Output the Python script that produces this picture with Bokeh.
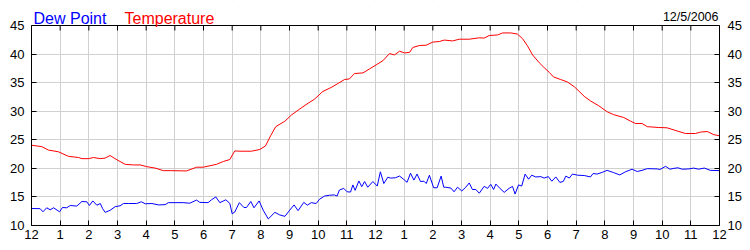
from bokeh.plotting import figure
from bokeh.models import Range1d, LinearAxis, FixedTicker, Label, BoxAnnotation, Span
from bokeh.embed import file_html
from bokeh.resources import INLINE

hour_ticks = list(range(25))
hour_labels = ["12", "1", "2", "3", "4", "5", "6", "7", "8", "9", "10", "11",
               "12", "1", "2", "3", "4", "5", "6", "7", "8", "9", "10", "11", "12"]
y_ticks = [10, 15, 20, 25, 30, 35, 40, 45]

temp_hours = [0, 0.36, 0.59, 0.94, 1.29, 1.64, 1.76, 1.99, 2.16, 2.4, 2.57, 2.74, 2.98,
              3.27, 3.56, 3.79, 4.02, 4.31, 4.6, 4.84, 5.41, 5.76, 5.99, 6.45, 6.69, 6.92,
              7.09, 7.27, 7.67, 7.96, 8.16, 8.34, 8.52, 8.84, 9.07, 9.36, 9.65, 9.87,
              10.16, 10.45, 10.69, 10.92, 11.09, 11.27, 11.56, 11.79, 12.02, 12.26,
              12.49, 12.66, 12.84, 13.01, 13.19, 13.3, 13.53, 13.77, 14.0, 14.23, 14.4,
              14.69, 14.92, 15.27, 15.62, 15.79, 15.97, 16.26, 16.43, 16.72, 16.95,
              17.13, 17.3, 17.48, 17.71, 17.88, 18.06, 18.21, 18.46, 18.7, 18.93, 19.1,
              19.28, 19.5, 19.79, 20.08, 20.31, 20.66, 20.9, 21.07, 21.3, 21.48, 21.88,
              22.17, 22.52, 22.81, 23.16, 23.34, 23.57, 23.8, 24.0]
temperature = [24.05, 23.8, 23.2, 22.9, 22.1, 21.9, 21.7, 21.7, 21.9, 21.7, 21.8, 22.25, 21.5,
               20.7, 20.6, 20.6, 20.3, 20.05, 19.6, 19.6, 19.55, 20.2, 20.2, 20.7, 21.2, 21.55,
               23.05, 23.0, 23.0, 23.3, 23.9, 25.7, 27.3, 28.25, 29.35, 30.4, 31.4, 32.1,
               33.45, 34.15, 34.85, 35.55, 35.65, 36.6, 36.7, 37.4, 38.1, 38.85,
               40.1, 39.85, 40.5, 40.2, 40.3, 41.15, 41.5, 41.55, 42.1, 42.2, 42.45,
               42.3, 42.6, 42.6, 42.85, 42.8, 43.25, 43.35, 43.7, 43.7, 43.5,
               42.7, 41.45, 39.85, 38.5, 37.65, 36.8, 36.0, 35.55, 35.1, 34.3, 33.5,
               32.6, 31.8, 30.95, 29.9, 29.4, 28.9, 28.25, 27.85, 27.85, 27.3, 27.15,
               27.1, 26.55, 26.1, 26.1, 26.35, 26.45, 25.9, 25.7]

dew_hours = [0, 0.3, 0.4, 0.53, 0.65, 0.77, 0.98, 1.08, 1.23, 1.35, 1.58, 1.76, 1.93, 2.02,
             2.14, 2.28, 2.4, 2.48, 2.57, 2.74, 2.92, 3.09, 3.21, 3.38, 3.67, 3.83, 3.97,
             4.2, 4.43, 4.66, 4.78, 5.29, 5.52, 5.76, 5.87, 6.16, 6.28, 6.43, 6.57, 6.78,
             6.92, 7.0, 7.09, 7.25, 7.41, 7.5, 7.65, 7.76, 7.94, 8.08, 8.26, 8.49, 8.66,
             8.84, 9.01, 9.16, 9.3, 9.5, 9.62, 9.76, 9.93, 10.05, 10.22, 10.4, 10.57,
             10.66, 10.74, 10.89, 11.01, 11.13, 11.21, 11.29, 11.42, 11.52, 11.62, 11.73,
             11.91, 12.06, 12.17, 12.29, 12.43, 12.52, 12.69, 12.84, 12.99, 13.1, 13.22,
             13.34, 13.45, 13.57, 13.69, 13.77, 13.88, 14.03, 14.15, 14.29, 14.38, 14.45,
             14.63, 14.74, 14.86, 15.01, 15.15, 15.27, 15.38, 15.5, 15.62, 15.79, 15.91,
             16.02, 16.12, 16.2, 16.32, 16.49, 16.66, 16.78, 16.87, 16.99, 17.1, 17.22,
             17.34, 17.45, 17.59, 17.77, 17.88, 18.03, 18.15, 18.29, 18.43, 18.55, 18.64,
             18.76, 18.87, 19.05, 19.28, 19.5, 19.59, 19.73, 19.91, 20.08, 20.31, 20.52,
             20.72, 20.95, 21.13, 21.3, 21.48, 21.83, 21.92, 22.12, 22.27, 22.41, 22.55,
             22.7, 22.93, 23.1, 23.27, 23.47, 23.68, 24.0]
dew_point = [12.97, 12.95, 12.4, 13.1, 12.75, 13.1, 12.4, 13.15, 13.1, 13.5, 13.4, 14.2, 14.15, 13.5,
             14.3, 13.55, 13.85, 12.97, 12.3, 12.65, 13.3, 13.45, 13.85, 13.85, 13.85, 14.15, 13.8,
             13.85, 13.6, 13.65, 14.0, 14.0, 13.9, 14.45, 14.05, 14.0, 14.5, 15.0, 14.0, 14.5,
             13.85, 12.05, 12.35, 14.0, 13.15, 13.15, 14.2, 13.1, 14.3, 12.7, 11.15, 12.3, 11.85,
             11.6, 12.7, 13.6, 12.6, 14.05, 13.55, 14.0, 13.85, 14.6, 15.15, 15.3, 15.35,
             15.15, 16.2, 16.5, 15.9, 15.85, 17.1, 16.15, 17.8, 16.8, 17.7, 16.7,
             17.7, 16.9, 19.4, 17.35, 18.45, 18.3, 18.35, 18.65, 18.05, 17.55, 19.15,
             17.95, 19.0, 17.7, 17.75, 17.35, 18.8, 16.6, 16.6, 18.65, 16.7, 16.7,
             16.55, 15.9, 16.7, 16.05, 16.7, 17.45, 16.3, 16.3, 15.65, 16.85, 16.5,
             17.2, 16.3, 17.25, 16.6, 15.8, 16.5, 16.85, 15.5, 17.1, 16.9, 19.0,
             18.1, 18.8, 18.5, 18.55, 18.3, 18.55, 17.75, 18.5, 17.55, 17.7, 18.65,
             18.3, 19.0, 18.8, 18.75, 18.5, 19.1, 19.0, 19.3, 19.65, 19.25, 18.85,
             19.4, 19.85, 19.45, 19.65, 19.95, 19.9, 19.8, 20.35, 19.85, 20.0, 20.1,
             19.85, 19.9, 20.05, 19.85, 20.05, 19.65, 19.6]

FONT = "Liberation Sans"
Y_MIN, Y_MAX = 10, 45
TOP_PAD_PX, FRAME_PX = 25, 200
UNITS_PER_PX = (Y_MAX - Y_MIN) / FRAME_PX
y_top = Y_MAX + TOP_PAD_PX * UNITS_PER_PX  # room above the plot for the legend texts
TICK_PX = 5

p = figure(width=750, height=250, output_backend="svg", toolbar_location=None,
           x_range=Range1d(0, 24), y_range=Range1d(Y_MIN, y_top),
           min_border_left=31, min_border_right=31, min_border_top=0, min_border_bottom=25,
           background_fill_color="white", border_fill_color="white")
p.outline_line_color = None

label_map = {t: l for t, l in zip(hour_ticks, hour_labels)}

def style_axis(ax):
    ax.axis_line_color = "black"
    ax.major_tick_line_color = "black"
    ax.major_tick_in = TICK_PX
    ax.major_tick_out = 0
    ax.minor_tick_line_color = None
    ax.major_label_text_font = FONT
    ax.major_label_text_font_size = "13px"
    ax.major_label_text_color = "black"
    ax.major_label_standoff = 6

xa = p.xaxis[0]
xa.ticker = FixedTicker(ticks=hour_ticks)
xa.major_label_overrides = label_map
style_axis(xa)
xa.major_label_standoff = 4

ya = p.yaxis[0]
ya.ticker = FixedTicker(ticks=y_ticks)
style_axis(ya)
ya.bounds = (Y_MIN, Y_MAX)
ya.major_label_standoff = 7

yr = LinearAxis(ticker=FixedTicker(ticks=y_ticks), bounds=(Y_MIN, Y_MAX))
style_axis(yr)
yr.major_label_standoff = 8
p.add_layout(yr, "right")

p.xgrid.ticker = FixedTicker(ticks=hour_ticks)
p.ygrid.ticker = FixedTicker(ticks=y_ticks)
p.grid.grid_line_color = "#d0d0d0"
p.grid.grid_line_width = 1

# hide the vertical grid above the top border
p.add_layout(BoxAnnotation(bottom=Y_MAX, fill_color="white", fill_alpha=1.0,
                           line_color=None, level="underlay"))

p.line(temp_hours, temperature, line_color="#ff0000", line_width=1)
p.line(dew_hours, dew_point, line_color="#0000ff", line_width=1)

# top border with short inward ticks at each hour
p.segment(x0=hour_ticks, y0=[Y_MAX] * len(hour_ticks),
          x1=hour_ticks, y1=[Y_MAX - TICK_PX * UNITS_PER_PX] * len(hour_ticks),
          line_color="black", line_width=1)
p.add_layout(Span(location=Y_MAX, dimension="width", line_color="black", line_width=1))

p.add_layout(Label(x=2, y=Y_MAX, x_units="screen", y_offset=7, text="Dew Point",
                   text_color="#0000ff", text_font=FONT, text_font_size="16px",
                   text_baseline="alphabetic", text_align="left"))
p.add_layout(Label(x=93, y=Y_MAX, x_units="screen", y_offset=7, text="Temperature",
                   text_color="#ff0000", text_font=FONT, text_font_size="16px",
                   text_baseline="alphabetic", text_align="left"))
p.add_layout(Label(x=687, y=Y_MAX, x_units="screen", y_offset=9, text="12/5/2006",
                   text_color="black", text_font=FONT, text_font_size="12.5px",
                   text_baseline="alphabetic", text_align="right"))

open("out.html", "w").write(file_html(p, INLINE))
